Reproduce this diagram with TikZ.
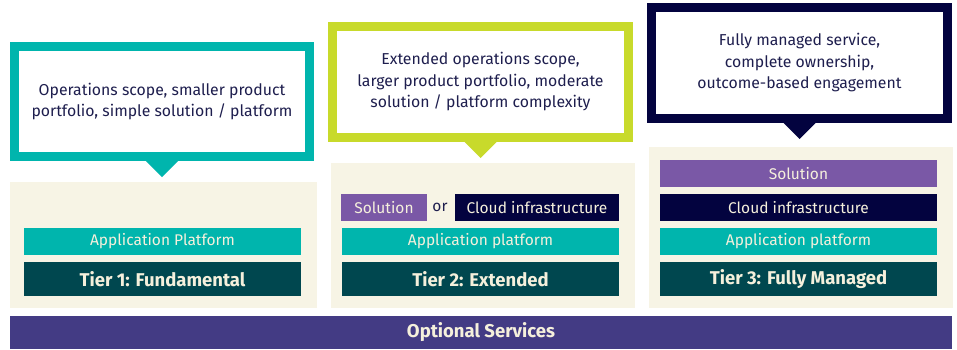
\documentclass[tikz,border=0pt]{standalone}
\usepackage{fontspec}
\setmainfont{Fira Sans}
\usetikzlibrary{calc}
\definecolor{cteal}{HTML}{00B5AD}
\definecolor{cdark}{HTML}{00474F}
\definecolor{clime}{HTML}{C8DA2B}
\definecolor{cnavy}{HTML}{03033F}
\definecolor{cpurple}{HTML}{7A58A6}
\definecolor{coptional}{HTML}{433B84}
\definecolor{cbeige}{HTML}{F7F4E5}
\definecolor{ctext}{HTML}{1E1E4E}
\definecolor{ccream}{HTML}{F5F0DC}
\tikzset{
  panel/.style={fill=cbeige, inner sep=0pt, outer sep=0pt},
  bar/.style={inner sep=0pt, outer sep=0pt, minimum height=27pt, text=ccream, font=\fontsize{15.5}{17}\selectfont},
  tierbar/.style={inner sep=0pt, outer sep=0pt, minimum height=34pt, fill=cdark, text=ccream, font=\bfseries\fontsize{18.5}{20}\selectfont},
  callout/.style={draw, line width=9pt, fill=white, text=ctext, align=center, inner sep=0pt, font=\fontsize{15.8}{21.5}\selectfont},
}
\begin{document}
\begin{tikzpicture}[x=1pt, y=-1pt]
\useasboundingbox (0,0) rectangle (957,349);
\fill[white] (0,0) rectangle (957,349);
% panels
\node[panel, minimum width=307pt, minimum height=126pt] (p1) at (163.5,245) {};
\node[panel, minimum width=304pt, minimum height=145pt] (p2) at (483,235.5) {};
\node[panel, minimum width=304pt, minimum height=161pt] (p3) at (801,227.5) {};
% callouts
\node[callout, draw=cteal, minimum width=295pt, minimum height=110pt] (c1) at (162,101.5) {Operations scope, smaller product\\portfolio, simple solution / platform};
\fill[cteal] ($(c1.south)+(-17,-1)$) -- ($(c1.south)+(17,-1)$) -- ($(c1.south)+(0,16)$) -- cycle;
\node[callout, draw=clime, minimum width=296pt, minimum height=111pt] (c2) at (480.5,82) {Extended operations scope,\\larger product portfolio, moderate\\solution / platform complexity};
\fill[clime] ($(c2.south)+(-17,-1)$) -- ($(c2.south)+(17,-1)$) -- ($(c2.south)+(0,16)$) -- cycle;
\node[callout, draw=cnavy, minimum width=296pt, minimum height=111pt] (c3) at (799.5,63) {Fully managed service,\\complete ownership,\\outcome-based engagement};
\fill[cnavy] ($(c3.south)+(-17,-1)$) -- ($(c3.south)+(17,-1)$) -- ($(c3.south)+(0,16)$) -- cycle;
% tier 1
\node[bar, fill=cteal, minimum width=277pt] (a1) at (162.5,241.5) {Application Platform};
\node[tierbar, minimum width=277pt] (t1) at (162.5,279) {Tier 1: Fundamental};
% tier 2
\node[bar, fill=cpurple, minimum width=86pt] (s2) at (384,207.5) {Solution};
\node[text=ctext, font=\fontsize{15.5}{17}\selectfont, inner sep=0pt] (or2) at (440,207.5) {or};
\node[bar, fill=cnavy, minimum width=164pt] (k2) at (537,207.5) {Cloud infrastructure};
\node[bar, fill=cteal, minimum width=277pt] (a2) at (480.5,241.5) {Application platform};
\node[tierbar, minimum width=277pt] (t2) at (480.5,279) {Tier 2: Extended};
% tier 3
\node[bar, fill=cpurple, minimum width=277pt] (s3) at (798.5,173.5) {Solution};
\node[bar, fill=cnavy, minimum width=277pt] (k3) at (798.5,207.5) {Cloud infrastructure};
\node[bar, fill=cteal, minimum width=277pt] (a3) at (798.5,241.5) {Application platform};
\node[tierbar, minimum width=277pt] (t3) at (798.5,279) {Tier 3: Fully Managed};
% optional services
\node[inner sep=0pt, outer sep=0pt, fill=coptional, text=ccream, minimum width=942pt, minimum height=33pt, font=\bfseries\fontsize{18.5}{20}\selectfont] (os) at (481,332.5) {Optional Services};
\end{tikzpicture}
\end{document}
